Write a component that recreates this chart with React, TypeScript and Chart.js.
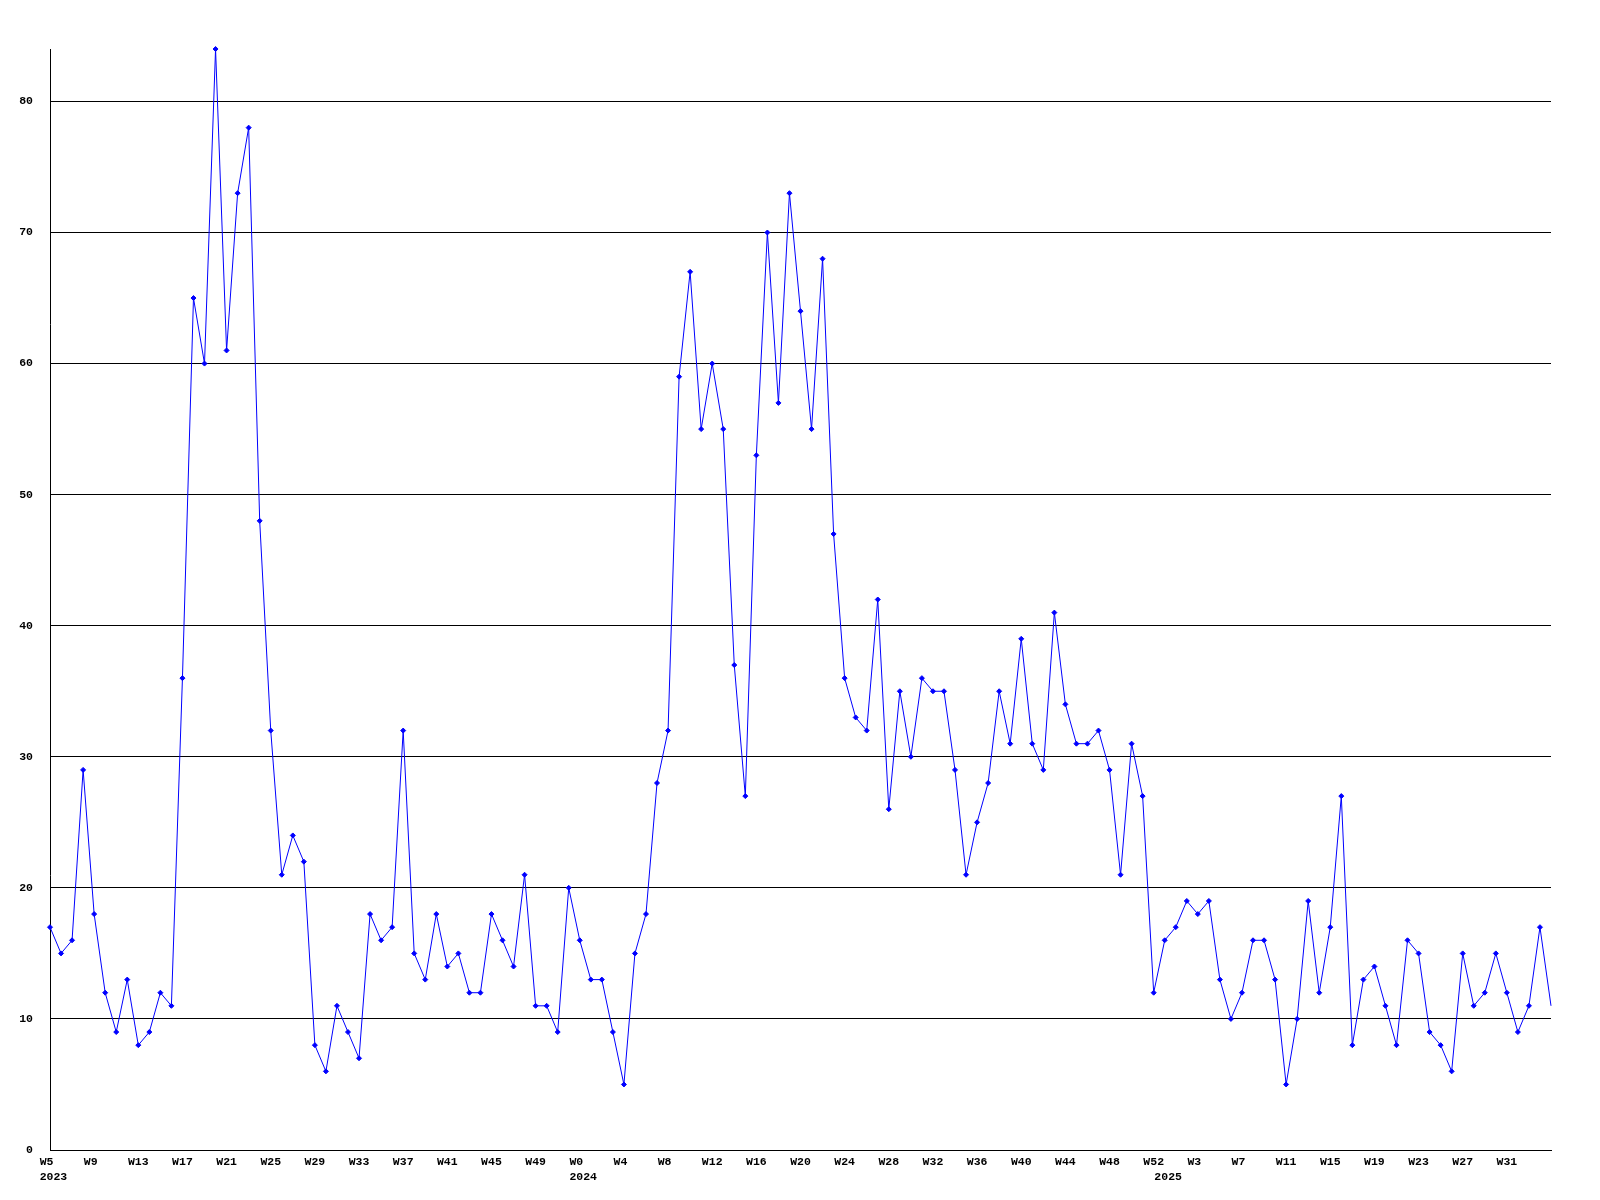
import React, { useEffect, useRef } from "react";
import { Chart, registerables } from "chart.js";

Chart.register(...registerables);

// Year segments of the weekly series
const years = [2023, 2024, 2025];
const firstWeek = [5, 0, 0];
const lastWeek = [52, 52, 35];

// Weekly counts, 2023 W5 .. 2025 W35
const values2023 = [
  17, 15, 16, 29, 18, 12, 9, 13, 8, 9, 12, 11, 36, 65, 60, 84, 61, 73, 78, 48,
  32, 21, 24, 22, 8, 6, 11, 9, 7, 18, 16, 17, 32, 15, 13, 18, 14, 15, 12, 12,
  18, 16, 14, 21, 11, 11, 9, 20,
];
const values2024 = [
  16, 13, 13, 9, 5, 15, 18, 28, 32, 59, 67, 55, 60, 55, 37, 27, 53, 70, 57, 73,
  64, 55, 68, 47, 36, 33, 32, 42, 26, 35, 30, 36, 35, 35, 29, 21, 25, 28, 35, 31,
  39, 31, 29, 41, 34, 31, 31, 32, 29, 21, 31, 27, 12,
];
const values2025 = [
  16, 17, 19, 18, 19, 13, 10, 12, 16, 16, 13, 5, 10, 19, 12, 17, 27, 8, 13, 14,
  11, 8, 16, 15, 9, 8, 6, 15, 11, 12, 15, 12, 9, 11, 17, 11,
];

const yTicks = [0, 10, 20, 30, 40, 50, 60, 70, 80];
const labelEvery = 4;

const FONT = "'Liberation Mono', 'DejaVu Sans Mono', monospace";

export default function App() {
  const ref = useRef<HTMLCanvasElement | null>(null);

  useEffect(() => {
    if (!ref.current) return;
    const weekLabels: string[] = [];
    const pointYear: number[] = [];
    years.forEach((y, i) => {
      for (let w = firstWeek[i]; w <= lastWeek[i]; w++) {
        weekLabels.push("W" + w);
        pointYear.push(y);
      }
    });
    const data = [...values2023, ...values2024, ...values2025];
    const last = data.length - 1;
    // labels are drawn left-aligned just left of their tick: pad to 3 chars;
    // the year goes under the first week of each year
    const tickText = weekLabels.map((lab, i) => {
      const showWeek = i % labelEvery === 0 && i !== last;
      const line1 = showWeek ? lab.padEnd(3, " ") : "   ";
      const yearStart = i === 0 || pointYear[i] !== pointYear[i - 1];
      if (yearStart) return [line1, " " + String(pointYear[i])];
      return showWeek ? line1 : "";
    });

    const chart = new Chart(ref.current, {
      type: "line",
      data: {
        labels: weekLabels,
        datasets: [
          {
            data,
            borderColor: "#0000ff",
            backgroundColor: "#0000ff",
            borderWidth: 1,
            tension: 0,
            pointStyle: "rectRot",
            pointRadius: (ctx: any) => (ctx.dataIndex === last ? 0 : 2.5),
            pointBorderWidth: 1,
            pointBackgroundColor: "#0000ff",
            pointBorderColor: "#0000ff",
            clip: false as any,
          },
        ],
      },
      options: {
        animation: false,
        responsive: false,
        devicePixelRatio: 1,
        events: [],
        layout: { padding: { top: 49, right: 49, left: 0, bottom: 0 } },
        plugins: { legend: { display: false }, tooltip: { enabled: false } },
        scales: {
          x: {
            type: "category",
            offset: false,
            grid: { display: false, drawTicks: false },
            border: { display: true, color: "#000", width: 1 },
            ticks: {
              autoSkip: false,
              maxRotation: 0,
              minRotation: 0,
              padding: 5,
              color: "#000",
              font: { family: FONT, size: 11.5, weight: "bold", lineHeight: 1.3 },
              callback: (_v: any, i: number) => tickText[i],
            },
            afterFit: (s: any) => {
              s.height = 50;
            },
          },
          y: {
            type: "linear",
            min: 0,
            max: 84,
            grid: { color: "#000", lineWidth: 1, drawTicks: false },
            border: { display: true, color: "#000", width: 1 },
            ticks: {
              stepSize: 10,
              includeBounds: false,
              padding: 17,
              color: "#000",
              font: { family: FONT, size: 11.5, weight: "bold" },
              callback: (v: any) => (yTicks.includes(Number(v)) ? String(v) : ""),
            },
            afterFit: (s: any) => {
              s.width = 50;
            },
          },
        },
      },
    });
    return () => chart.destroy();
  }, []);

  return (
    <div style={{ position: "absolute", left: 0, top: 0, width: 1600, height: 1200, background: "#fff" }}>
      <canvas ref={ref} width={1600} height={1200} style={{ width: 1600, height: 1200, display: "block" }} />
    </div>
  );
}
